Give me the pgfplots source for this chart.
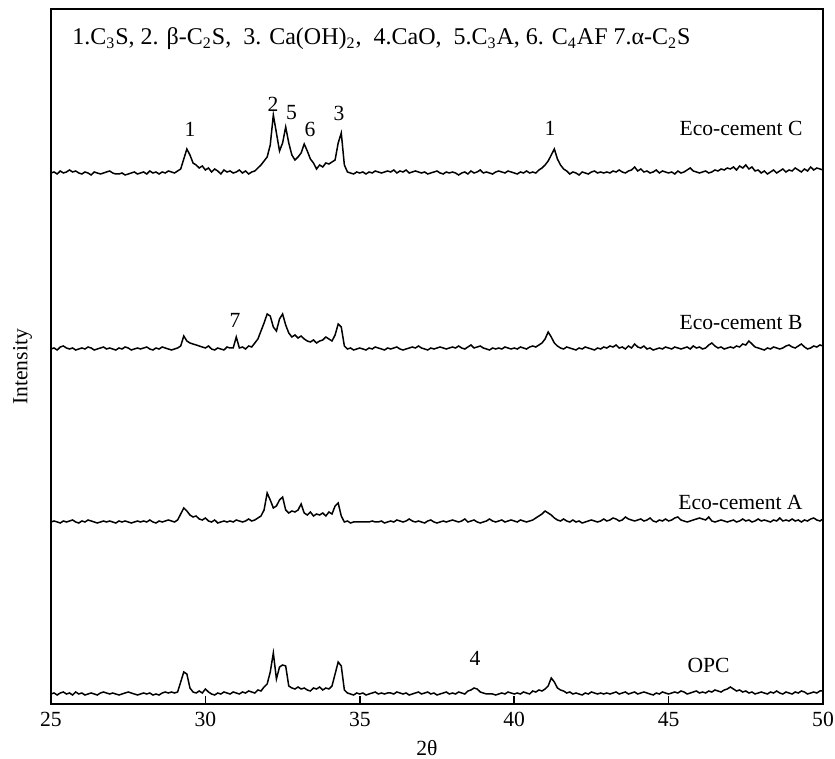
\documentclass[border=0pt]{standalone}
\usepackage{fontspec}
\setmainfont{Liberation Serif}
\usepackage{pgfplots}
\usepackage{pgfplotstable}
\pgfplotsset{compat=1.18}

% offsets (px above each trace's baseline)
\pgfplotstableread{
x C B A O
25.0 0 0 0 0
25.1 1 1 1 1
25.2 -1 -1 0 -1
25.3 2 2 -1 1
25.4 0 3 1 2
25.5 1 1 0 0
25.6 3 0 1 1
25.7 1 1 2 -1
25.8 2 -1 0 2
25.9 0 0 -1 0
26.0 -1 1 1 1
26.1 1 0 0 -1
26.2 0 2 2 0
26.3 -2 1 1 1
26.4 1 -1 0 0
26.5 0 0 -1 -1
26.6 -1 1 0 1
26.7 0 2 1 2
26.8 1 0 0 1
26.9 2 1 1 0
27.0 0 0 0 1
27.1 -1 -1 -1 0
27.2 -1 1 1 -1
27.3 0 0 0 0
27.4 -2 2 1 1
27.5 -1 1 0 2
27.6 0 -1 -1 1
27.7 1 0 0 0
27.8 -1 1 1 -1
27.9 0 0 0 0
28.0 1 1 1 1
28.1 -1 2 0 0
28.2 2 0 2 1
28.3 0 -1 0 -1
28.4 1 1 -1 0
28.5 -1 0 1 -1
28.6 1 2 0 1
28.7 0 1 1 2
28.8 2 0 2 1
28.9 1 -1 1 2
29.0 0 0 0 1
29.1 2 1 2 2
29.2 4 3 8 12
29.3 14 13 14 22
29.4 24 8 11 20
29.5 18 6 7 6
29.6 10 5 5 2
29.7 8 4 6 1
29.8 5 3 3 3
29.9 7 2 2 1
30.0 3 1 4 5
30.1 5 3 1 2
30.2 1 0 0 0
30.3 4 -1 2 -1
30.4 2 1 -1 1
30.5 -1 0 0 0
30.6 3 -1 1 2
30.7 1 2 0 1
30.8 2 1 1 0
30.9 0 1 0 2
31.0 1 12 2 1
31.1 3 1 1 0
31.2 0 2 0 2
31.3 2 0 1 1
31.4 -1 3 3 3
31.5 1 2 1 2
31.6 2 6 2 1
31.7 5 10 4 4
31.8 8 18 6 3
31.9 12 26 12 7
32.0 16 35 29 10
32.1 28 33 22 22
32.2 58 22 14 41
32.3 40 18 16 15
32.4 22 30 22 27
32.5 30 35 25 29
32.6 46 24 12 28
32.7 30 16 9 8
32.8 18 12 11 6
32.9 13 14 10 5
33.0 16 11 12 7
33.1 20 13 18 5
33.2 29 10 9 6
33.3 22 8 7 4
33.4 14 7 10 3
33.5 10 9 6 6
33.6 4 6 8 5
33.7 8 8 7 7
33.8 6 9 9 4
33.9 10 12 6 6
34.0 9 10 10 5
34.1 11 8 8 8
34.2 13 14 16 20
34.3 30 25 19 32
34.4 40 22 6 28
34.5 8 3 0 4
34.6 1 0 1 1
34.7 0 1 -1 0
34.8 -1 -1 0 -1
34.9 1 0 0 1
35.0 0 1 0 0
35.1 1 0 0 1
35.2 -1 -1 0 -1
35.3 1 1 0 0
35.4 0 0 1 1
35.5 2 2 0 2
35.6 1 1 0 0
35.7 0 0 1 1
35.8 1 -1 -1 0
35.9 2 1 0 1
36.0 1 0 1 1
36.1 3 1 0 0
36.2 0 2 2 2
36.3 2 0 1 1
36.4 1 -1 0 0
36.5 3 0 1 1
36.6 0 1 3 -1
36.7 1 2 1 0
36.8 2 1 0 1
36.9 1 3 1 2
37.0 0 1 0 0
37.1 1 0 -1 1
37.2 -1 -1 1 2
37.3 0 1 2 0
37.4 1 0 0 1
37.5 2 1 -1 -1
37.6 0 2 0 0
37.7 -1 1 1 1
37.8 1 0 0 2
37.9 0 1 1 0
38.0 1 2 2 1
38.1 0 1 1 0
38.2 -2 3 0 2
38.3 0 1 1 1
38.4 1 0 3 0
38.5 -1 2 0 3
38.6 2 4 1 4
38.7 0 1 2 6
38.8 1 2 0 5
38.9 3 3 -1 2
39.0 0 1 0 1
39.1 1 0 1 0
39.2 0 -1 3 0
39.3 -1 1 1 0
39.4 1 0 0 -1
39.5 2 1 1 0
39.6 1 0 2 1
39.7 0 2 0 0
39.8 2 1 1 2
39.9 1 0 2 1
40.0 0 1 1 0
40.1 -1 0 0 1
40.2 1 2 2 0
40.3 0 1 1 2
40.4 2 0 0 1
40.5 0 2 1 0
40.6 1 3 2 3
40.7 0 2 4 2
40.8 3 4 6 4
40.9 5 6 8 3
41.0 8 10 11 5
41.1 12 17 9 8
41.2 18 12 7 16
41.3 24 6 4 12
41.4 14 3 2 6
41.5 8 1 1 4
41.6 4 0 3 3
41.7 2 2 1 1
41.8 -1 1 0 2
41.9 1 0 2 0
42.0 0 -1 0 1
42.1 -2 1 1 0
42.2 1 0 -1 -1
42.3 0 2 0 1
42.4 -1 1 1 0
42.5 1 0 2 2
42.6 2 -1 1 1
42.7 0 1 0 0
42.8 1 0 1 1
42.9 0 2 3 0
43.0 1 1 1 1
43.1 0 3 2 0
43.2 2 2 4 1
43.3 1 4 3 2
43.4 3 1 1 0
43.5 1 2 2 1
43.6 0 0 5 2
43.7 2 3 3 0
43.8 3 1 2 1
43.9 6 5 1 2
44.0 2 2 2 0
44.1 4 1 3 1
44.2 1 3 1 2
44.3 2 0 2 1
44.4 0 1 4 0
44.5 1 -1 1 -1
44.6 3 0 0 1
44.7 0 1 2 0
44.8 2 0 1 2
44.9 1 2 3 1
45.0 0 1 1 0
45.1 1 0 2 1
45.2 -1 2 4 2
45.3 2 1 5 1
45.4 0 0 2 3
45.5 1 1 1 2
45.6 3 2 0 0
45.7 5 0 1 1
45.8 2 3 2 2
45.9 1 1 3 3
46.0 0 2 4 1
46.1 1 0 3 2
46.2 2 1 2 1
46.3 0 4 5 3
46.4 1 6 1 2
46.5 3 3 0 4
46.6 2 1 1 3
46.7 4 2 2 2
46.8 3 0 1 4
46.9 5 1 0 5
47.0 4 2 1 7
47.1 6 1 2 5
47.2 3 3 0 3
47.3 7 2 1 4
47.4 5 5 3 2
47.5 8 4 1 3
47.6 4 8 2 1
47.7 6 5 0 2
47.8 2 2 1 0
47.9 3 1 3 1
48.0 0 0 1 2
48.1 2 -1 2 1
48.2 -1 1 1 0
48.3 1 0 0 2
48.4 3 2 2 1
48.5 0 1 1 3
48.6 2 0 4 1
48.7 4 1 1 0
48.8 1 3 2 2
48.9 3 4 1 1
49.0 2 2 3 0
49.1 5 1 1 2
49.2 3 3 2 1
49.3 1 5 0 3
49.4 4 2 2 2
49.5 2 0 1 0
49.6 6 1 3 1
49.7 3 3 4 2
49.8 5 2 2 1
49.9 4 4 1 3
50.0 3 3 3 3
}\xrd

\begin{document}
\begin{tikzpicture}
\begin{axis}[
    name=ax,
    scale only axis,
    width=386pt, height=347.5pt,
    xmin=25, xmax=50,
    ymin=0, ymax=695,
    xtick={25,30,...,50},
    ytick=\empty,
    xtick pos=lower,
    tick align=inside,
    major tick length=4pt,
    every tick/.style={line width=0.8pt, black},
    axis line style={line width=1pt},
    font=\fontsize{10.8}{13}\selectfont,
    /pgf/number format/assume math mode=true,
    xticklabel style={inner sep=0pt, yshift=-4pt},
    xlabel={2θ},
    xlabel style={at={(axis description cs:0.487,0)}, anchor=north, inner sep=0pt, yshift=-18pt},
    ylabel={Intensity},
    ylabel style={at={(axis description cs:-0.024,0.485)}, anchor=south, inner sep=0pt},
]
\addplot[black, line width=0.75pt, no markers] table[x=x, y expr=\thisrow{C}+531] {\xrd};
\addplot[black, line width=0.75pt, no markers] table[x=x, y expr=\thisrow{B}+355] {\xrd};
\addplot[black, line width=0.75pt, no markers] table[x=x, y expr=\thisrow{A}+182] {\xrd};
\addplot[black, line width=0.75pt, no markers] table[x=x, y expr=\thisrow{O}+10] {\xrd};

\node[anchor=base west, inner sep=0pt, font=\fontsize{12}{14}\selectfont] at (axis cs:25.68,659)
  {1.C\textsubscript{3}S, 2. β-C\textsubscript{2}S,\ \ 3. Ca(OH)\textsubscript{2},\ \ 4.CaO,\ \ 5.C\textsubscript{3}A, 6. C\textsubscript{4}AF 7.α-C\textsubscript{2}S};

\node[inner sep=0pt] at (axis cs:29.5,575) {1};
\node[inner sep=0pt] at (axis cs:32.19,600) {2};
\node[inner sep=0pt] at (axis cs:32.79,591) {5};
\node[inner sep=0pt] at (axis cs:33.39,575) {6};
\node[inner sep=0pt] at (axis cs:34.33,591) {3};
\node[inner sep=0pt] at (axis cs:41.16,576) {1};
\node[inner sep=0pt] at (axis cs:30.96,384) {7};
\node[inner sep=0pt] at (axis cs:38.73,46) {4};

\node[anchor=east, inner sep=0pt] at (axis cs:49.35,576) {Eco-cement C};
\node[anchor=east, inner sep=0pt] at (axis cs:49.35,381) {Eco-cement B};
\node[anchor=east, inner sep=0pt] at (axis cs:49.35,202) {Eco-cement A};
\node[anchor=east, inner sep=0pt] at (axis cs:46.99,39) {OPC};
\end{axis}
\pgfresetboundingbox
\path[use as bounding box] ([shift={(-25.5pt,-27.5pt)}]ax.south west) rectangle ([shift={(6pt,4.5pt)}]ax.north east);
\end{tikzpicture}
\end{document}
